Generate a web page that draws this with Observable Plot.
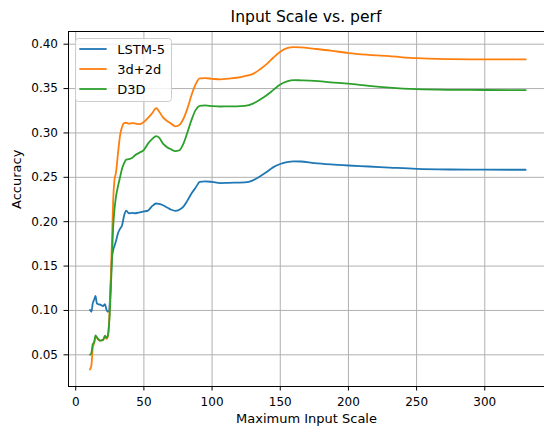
<!DOCTYPE html>
<html>
<head>
<meta charset="utf-8">
<script src="https://cdn.jsdelivr.net/npm/d3@7"></script>
<script src="https://cdn.jsdelivr.net/npm/@observablehq/plot@0.6"></script>
<style>
html, body { margin: 0; padding: 0; background: white; overflow: hidden; width: 544px; height: 426px; }
#wrap { position: relative; width: 544px; height: 426px; font-family: "DejaVu Sans", sans-serif; }
#title { height: 28px; box-sizing: border-box; padding-top: 8.3px; line-height: 18px; font-size: 15.6px; margin-left: 68px; width: 476px; text-align: center; color: #000; white-space: nowrap; }
#legend { position: absolute; left: 75px; top: 37.7px; width: 97px; height: 64px; }
</style>
</head>
<body>
<div id="wrap">
  <div id="title">Input Scale vs. perf</div>
  <div id="chart"></div>
  <svg id="legend" width="97" height="64"></svg>
</div>
<script>
// ---- data ----
const xValues = [10.5, 11.5, 12.5, 13.5, 14.5, 15.5, 16.5, 18, 20, 21.5, 22.5, 23.5, 24.5, 25.5, 26.5, 27.5, 28.5, 29.5, 31, 32.5, 34, 35.5, 37, 39, 41.5, 44, 47, 50, 53, 56, 59, 61, 64, 67, 70, 73, 76, 79, 82, 85, 88, 91, 95, 100, 106, 112, 118, 124, 130, 135, 140, 145, 150, 155, 160, 165, 175, 187, 200, 215, 230, 250, 275, 300, 330];

const lstm5 = [0.1007, 0.0985, 0.108, 0.112, 0.1165, 0.108, 0.107, 0.1065, 0.105, 0.107, 0.101, 0.0985, 0.100, 0.125, 0.158, 0.168, 0.173, 0.178, 0.187, 0.192, 0.196, 0.207, 0.2125, 0.2095, 0.2100, 0.2095, 0.2105, 0.2115, 0.2125, 0.2175, 0.2205, 0.220, 0.2185, 0.216, 0.2135, 0.2122, 0.2135, 0.217, 0.224, 0.232, 0.2385, 0.2448, 0.2455, 0.2448, 0.2435, 0.2438, 0.2440, 0.2442, 0.2465, 0.251, 0.256, 0.2615, 0.2650, 0.2672, 0.2680, 0.2678, 0.2660, 0.2645, 0.2633, 0.2622, 0.2610, 0.2595, 0.2588, 0.2586, 0.2585];

const d3d2d = [0.0335, 0.038, 0.058, 0.063, 0.070, 0.069, 0.067, 0.066, 0.0665, 0.071, 0.068, 0.070, 0.088, 0.125, 0.175, 0.225, 0.248, 0.255, 0.277, 0.297, 0.307, 0.311, 0.3115, 0.3105, 0.311, 0.3105, 0.310, 0.3125, 0.317, 0.322, 0.328, 0.3245, 0.3175, 0.3135, 0.3105, 0.3075, 0.309, 0.316, 0.328, 0.343, 0.355, 0.3615, 0.3618, 0.3610, 0.3603, 0.3612, 0.3622, 0.3640, 0.3665, 0.3715, 0.3775, 0.3850, 0.3915, 0.3955, 0.3966, 0.3963, 0.3948, 0.3928, 0.3900, 0.3880, 0.3865, 0.3842, 0.3832, 0.3829, 0.3828];

const d3dVals = [0.050, 0.052, 0.062, 0.064, 0.072, 0.070, 0.068, 0.066, 0.0668, 0.0715, 0.069, 0.0715, 0.085, 0.115, 0.155, 0.195, 0.215, 0.228, 0.240, 0.250, 0.260, 0.266, 0.270, 0.2705, 0.272, 0.2755, 0.278, 0.281, 0.288, 0.293, 0.2965, 0.295, 0.288, 0.284, 0.2815, 0.2795, 0.2805, 0.288, 0.301, 0.315, 0.326, 0.3305, 0.331, 0.3303, 0.3298, 0.3300, 0.3300, 0.3305, 0.3330, 0.3375, 0.3425, 0.3485, 0.3545, 0.3580, 0.3595, 0.3593, 0.3587, 0.3570, 0.3555, 0.3530, 0.3510, 0.3493, 0.3486, 0.3484, 0.3482];

const seriesNames = ["LSTM-5", "3d+2d", "D3D"];
const seriesColors = ["#1f77b4", "#ff7f0e", "#2ca02c"];
const xTicks = [0, 50, 100, 150, 200, 250, 300];
const yTicks = [0.05, 0.10, 0.15, 0.20, 0.25, 0.30, 0.35, 0.40];

const seriesValues = [lstm5, d3d2d, d3dVals];
const rows = seriesNames.flatMap((name, i) =>
  xValues.map((x, j) => ({ series: name, x, y: seriesValues[i][j] }))
);

const chart = Plot.plot({
  width: 544,
  height: 398,
  marginTop: 3,
  marginBottom: 40,
  marginLeft: 68,
  marginRight: -3,
  style: { fontFamily: "DejaVu Sans", fontSize: "12px", color: "#000", background: "white", overflow: "visible" },
  x: { domain: [-5.3, 346] },
  y: { domain: [0.0143, 0.4143] },
  color: { domain: seriesNames, range: seriesColors },
  marks: [
    Plot.gridX(xTicks, { stroke: "#b0b0b0", strokeOpacity: 1, strokeWidth: 1 }),
    Plot.gridY(yTicks, { stroke: "#b0b0b0", strokeOpacity: 1, strokeWidth: 1 }),
    Plot.line(rows, { x: "x", y: "y", z: "series", stroke: "series", strokeWidth: 1.8, curve: "monotone-x" }),
    Plot.frame({ stroke: "#000", strokeWidth: 1 }),
    Plot.axisX(xTicks, { tickSize: 4.5, tickPadding: 6, label: null, fontSize: 12 }),
    Plot.axisY(yTicks, { tickSize: 4.5, tickPadding: 6, label: null, fontSize: 12, tickFormat: d => d.toFixed(2) }),
    Plot.text(["Maximum Input Scale"], { text: d => d, frameAnchor: "bottom", dy: 36, dx: -1.5, lineAnchor: "bottom", fontSize: 13 }),
    Plot.text(["Accuracy"], { text: d => d, frameAnchor: "left", rotate: -90, dx: -47.5, lineAnchor: "bottom", fontSize: 13 })
  ]
});
document.getElementById("chart").appendChild(chart);

// legend
const leg = d3.select("#legend");
leg.append("rect").attr("x", 0.5).attr("y", 0.5).attr("width", 96).attr("height", 63)
  .attr("rx", 3).attr("fill", "white").attr("fill-opacity", 0.8).attr("stroke", "#cccccc");
seriesNames.forEach((name, i) => {
  const cy = 11 + i * 20;
  leg.append("line").attr("x1", 4.3).attr("x2", 31.7).attr("y1", cy).attr("y2", cy)
    .attr("stroke", seriesColors[i]).attr("stroke-width", 1.8);
  leg.append("text").attr("x", 42.3).attr("y", cy + 4.7)
    .attr("font-family", "DejaVu Sans").attr("font-size", 13).attr("fill", "#000").text(name);
});
</script>
</body>
</html>
